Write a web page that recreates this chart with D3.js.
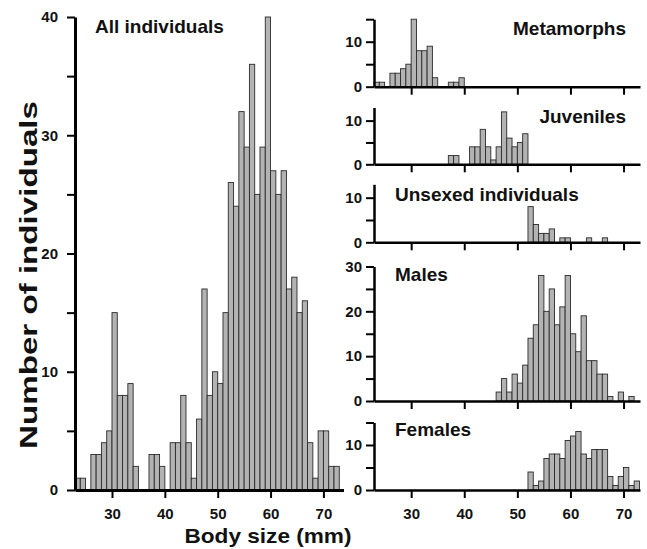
<!DOCTYPE html>
<html>
	<head>
		<meta charset="utf-8">
		<title>Body size histograms</title>
		<script src="https://d3js.org/d3.v7.min.js"></script>
		<style>
			body { margin: 0; background: white; }
			svg text { font-family: 'Liberation Sans', Arial, sans-serif; font-weight: bold; fill: #111; }
		</style>
	</head>
	<body>
		<div id='plot'></div>
		<script>
			// body size classes (mm), one bar per class
			var sizes = [23,24,25,26,27,28,29,30,31,32,33,34,35,36,37,38,39,40,41,42,43,44,45,46,47,48,49,50,51,52,53,54,55,56,57,58,59,60,61,62,63,64,65,66,67,68,69,70,71,72]
			var xTicks = [30,40,50,60,70]

			// counts per class, aligned with sizes
			var allInd    = [1,1,0,3,3,4,5,15,8,8,9,2,0,0,3,3,2,0,4,4,8,4,1,6,17,8,10,9,15,26,24,32,29,36,25,29,40,27,25,27,17,18,15,16,4,1,5,5,2,2]
			var metamorphs = [1,1,0,3,3,4,5,15,8,8,9,2,0,0,1,1,2,0,0,0,0,0,0,0,0,0,0,0,0,0,0,0,0,0,0,0,0,0,0,0,0,0,0,0,0,0,0,0,0,0]
			var juveniles  = [0,0,0,0,0,0,0,0,0,0,0,0,0,0,2,2,0,0,4,4,8,4,1,4,12,6,4,5,7,0,0,0,0,0,0,0,0,0,0,0,0,0,0,0,0,0,0,0,0,0]
			var unsexed    = [0,0,0,0,0,0,0,0,0,0,0,0,0,0,0,0,0,0,0,0,0,0,0,0,0,0,0,0,0,8,4,2,2,3,0,1,1,0,0,0,1,0,0,1,0,0,0,0,0,0]
			var males      = [0,0,0,0,0,0,0,0,0,0,0,0,0,0,0,0,0,0,0,0,0,0,0,2,5,2,6,4,8,14,17,28,20,25,17,21,28,15,11,19,9,9,6,6,1,0,2,0,1,0]
			var females    = [0,0,0,0,0,0,0,0,0,0,0,0,0,0,0,0,0,0,0,0,0,0,0,0,0,0,0,0,0,4,1,2,7,8,8,7,11,12,13,8,7,9,9,9,3,1,3,5,1,2]

			var svg = d3.select('#plot').append('svg')
						.attr('width', 647)
						.attr('height', 549)

			// panel layout: x range, y range (bottom, top), y domain max, ticks
			var panels = [
				{name:'All individuals', data:allInd, xr:[75,343.5], xmax:73.8, yr:[490,17], ymax:40, yt:[0,5,10,15,20,25,30,35,40], ylab:[0,10,20,30,40], xlab:true, tx:95, ty:33, anchor:'start', axisW:3, ypad:9},
				{name:'Metamorphs', data:metamorphs, xr:[374,640], xmax:73.1, yr:[86.7,19.2], ymax:15, yt:[0,5,10,15], ylab:[0,10], xlab:false, tx:626, ty:35, anchor:'end', axisW:2.5, ypad:4},
				{name:'Juveniles', data:juveniles, xr:[374,640], xmax:73.1, yr:[164.3,107.5], ymax:13, yt:[0,5,10], ylab:[0,10], xlab:false, tx:626, ty:123, anchor:'end', axisW:2.5, ypad:4},
				{name:'Unsexed individuals', data:unsexed, xr:[374,640], xmax:73.1, yr:[242.3,184.3], ymax:13, yt:[0,5,10], ylab:[0,10], xlab:false, tx:395, ty:201, anchor:'start', axisW:2.5, ypad:4},
				{name:'Males', data:males, xr:[374,640], xmax:73.1, yr:[401,266.5], ymax:30, yt:[0,5,10,15,20,25,30], ylab:[0,10,20,30], xlab:false, tx:395, ty:281, anchor:'start', axisW:2.5, ypad:4},
				{name:'Females', data:females, xr:[374,640], xmax:73.1, yr:[490,422.5], ymax:15, yt:[0,5,10,15], ylab:[0,10], xlab:true, tx:395, ty:436, anchor:'start', axisW:2.5, ypad:4}
			]

			panels.forEach(function(p){
				var x = d3.scaleLinear().domain([23, p.xmax]).range(p.xr)
				var y = d3.scaleLinear().domain([0, p.ymax]).range(p.yr)
				var g = svg.append('g')

				//BARS
				g.selectAll('rect')
					.data(sizes.map(function(s,i){return {size:s, n:p.data[i]}}).filter(function(d){return d.n > 0}))
					.enter()
					.append('rect')
						.attr('x', function(d){return x(d.size)})
						.attr('y', function(d){return y(d.n)})
						.attr('width', function(d){return x(d.size+1)-x(d.size)})
						.attr('height', function(d){return y(0)-y(d.n)})
						.attr('fill','#b3b3b3')
						.attr('stroke','#2b2b2b')
						.attr('stroke-width',0.9)

				//AXES
				g.append('g')
					.attr('transform','translate(0,'+p.yr[0]+')')
					.call(d3.axisBottom(x).tickValues(xTicks).tickSize(8).tickSizeOuter(0).tickPadding(10)
						.tickFormat(function(d){return p.xlab ? d : ''}))
				g.append('g')
					.attr('transform','translate('+p.xr[0]+',0)')
					.call(d3.axisLeft(y).tickValues(p.yt).tickSize(8).tickSizeOuter(0).tickPadding(p.ypad)
						.tickFormat(function(d){return p.ylab.indexOf(d) >= 0 ? d : ''}))

				g.selectAll('.domain').attr('stroke','#000').attr('stroke-width',p.axisW)
				g.selectAll('.tick line').attr('stroke','#000').attr('stroke-width',2)
				g.selectAll('.tick text')
					.attr('fill','#111')
					.style('font-size','15px')
					.style('font-family','Liberation Sans, Arial, sans-serif')
					.style('font-weight','bold')

				//TITLE
				g.append('text')
					.attr('x',p.tx)
					.attr('y',p.ty)
					.attr('text-anchor',p.anchor)
					.style('font-size','19px')
					.text(p.name)
			})

			//AXIS LABELS
			svg.append('text')
				.attr('transform','translate(37,275) rotate(-90)')
				.attr('text-anchor','middle')
				.attr('textLength',348)
				.attr('lengthAdjust','spacingAndGlyphs')
				.style('font-size','23px')
				.text('Number of individuals')

			svg.append('text')
				.attr('x',268)
				.attr('y',543)
				.attr('text-anchor','middle')
				.attr('textLength',167)
				.attr('lengthAdjust','spacingAndGlyphs')
				.style('font-size','21px')
				.text('Body size (mm)')
		</script>
	</body>
</html>
